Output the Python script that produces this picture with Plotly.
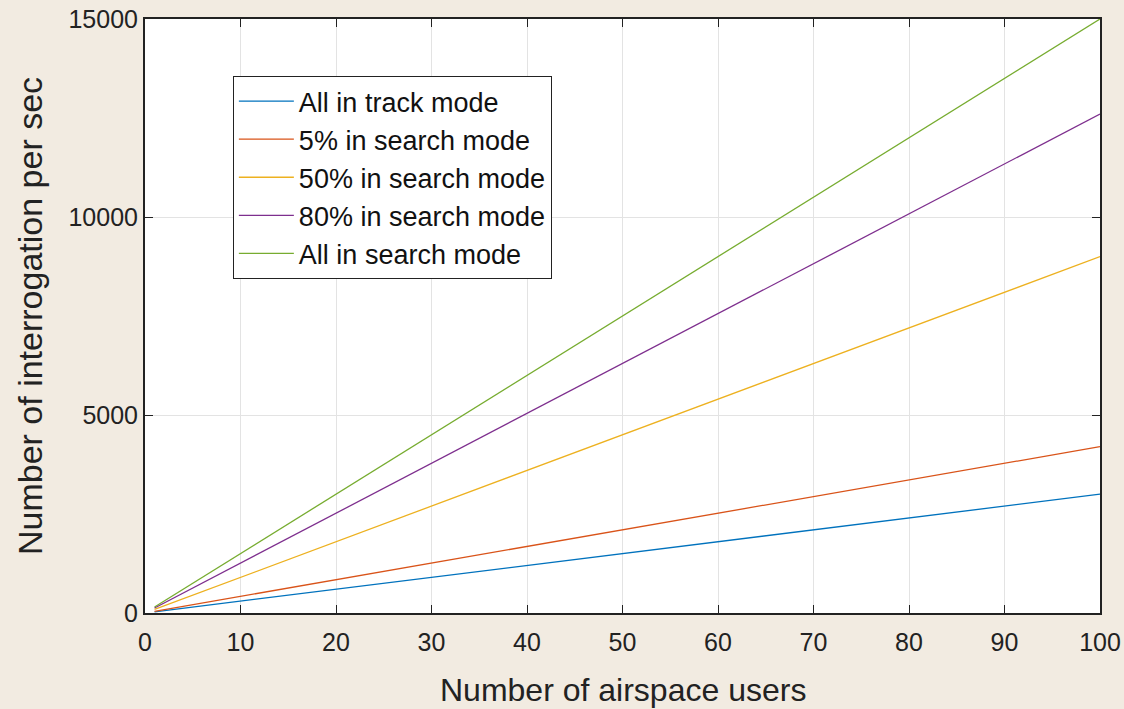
import plotly.graph_objects as go

users = [1, 100]
track_all = [30, 3000]
search_5 = [42, 4200]
search_50 = [90, 9000]
search_80 = [126, 12600]
search_all = [150, 15000]

names = ["All in track mode", "5% in search mode", "50% in search mode",
         "80% in search mode", "All in search mode"]
series = [track_all, search_5, search_50, search_80, search_all]
colors = ["#0072BD", "#D95319", "#EDB120", "#7E2F8E", "#77AC30"]

xticks = list(range(0, 101, 10))
yticks = [0, 5000, 10000, 15000]
ytick_labels = ["0", "5000", "10000", "15000"]
x_title = "Number of airspace users"
y_title = "Number of interrogation per sec"

fig = go.Figure()
for n, s, c in zip(names, series, colors):
    fig.add_trace(go.Scatter(x=users, y=s, mode="lines", name=n,
                             line=dict(color=c, width=1.3)))

font = "Liberation Sans, Arial, sans-serif"
fig.update_layout(
    width=1124, height=709,
    margin=dict(l=145, r=24, t=19, b=96, autoexpand=False),
    paper_bgcolor="#f2ebe1",
    plot_bgcolor="white",
    font=dict(family=font, color="#222222"),
    showlegend=True,
    legend=dict(x=0.092, y=0.904, xanchor="left", yanchor="top",
                bgcolor="white", bordercolor="#222222", borderwidth=1,
                font=dict(size=27, color="#111111", family=font),
                itemwidth=55, tracegroupgap=0),
    xaxis=dict(range=[0, 100], tickvals=xticks, ticks="inside", ticklen=8,
               tickcolor="#222222", showline=True, linecolor="#222222",
               linewidth=2, mirror="ticks", showgrid=True, gridcolor="#e3e3e3",
               zeroline=False, tickfont=dict(size=25), automargin=False,
               ticklabelstandoff=6),
    yaxis=dict(range=[0, 15000], tickvals=yticks, ticktext=ytick_labels,
               ticks="inside", ticklen=8,
               tickcolor="#222222", showline=True, linecolor="#222222",
               linewidth=2, mirror="ticks", showgrid=True, gridcolor="#e3e3e3",
               zeroline=False, tickfont=dict(size=25), automargin=False),
    annotations=[
        dict(text=x_title, xref="paper", yref="paper", x=0.5, y=-0.1296,
             xanchor="center", yanchor="middle", showarrow=False,
             font=dict(size=32, color="#222222")),
        dict(text=y_title, xref="paper", yref="paper", x=-0.1204, y=0.5,
             xanchor="center", yanchor="middle", textangle=-90, showarrow=False,
             font=dict(size=34, color="#222222")),
    ],
)
fig.write_html("out.html", config={"displayModeBar": False},
               post_script="document.body.style.margin='0';document.body.style.overflow='hidden';")
